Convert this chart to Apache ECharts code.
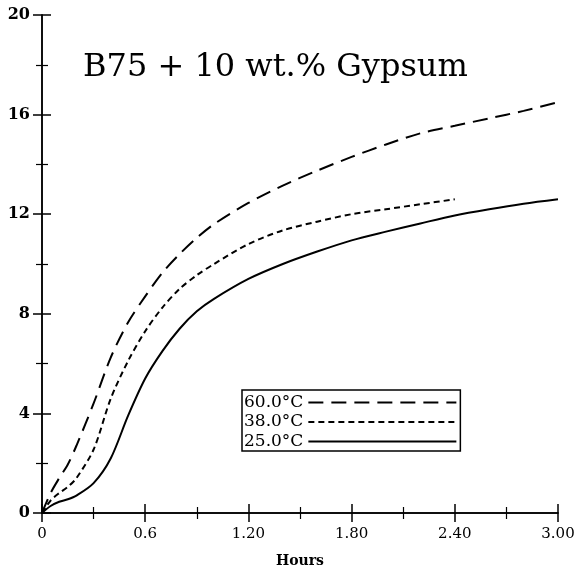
<!DOCTYPE html>
<html>
<head>
<meta charset="utf-8">
<script src="https://cdn.jsdelivr.net/npm/echarts@6/dist/echarts.min.js"></script>
<style>
  html, body { margin: 0; padding: 0; background: #fff; }
  #chart { width: 585px; height: 573px; }
</style>
</head>
<body>
<div id="chart"></div>
<script>
  // hours on the x axis
  var hours = [0, 0.05, 0.1, 0.15, 0.2, 0.3, 0.4, 0.5, 0.6, 0.7, 0.8, 0.9, 1.0,
    1.2, 1.4, 1.6, 1.8, 2.0, 2.2, 2.4, 2.6, 2.8, 3.0]
  var t60 = [0, 0.8, 1.4, 1.95, 2.7, 4.4, 6.25, 7.65, 8.7, 9.65, 10.4, 11.05, 11.6,
    12.45, 13.15, 13.75, 14.3, 14.8, 15.25, 15.55, 15.85, 16.15, 16.5]
  var t38 = [0, 0.5, 0.8, 1.05, 1.4, 2.55, 4.6, 6.1, 7.3, 8.25, 9.0, 9.55, 10.0,
    10.8, 11.35, 11.7, 12.0, 12.2, 12.4, 12.6]
  var t25 = [0, 0.28, 0.45, 0.55, 0.7, 1.2, 2.2, 3.9, 5.4, 6.5, 7.4, 8.1, 8.6,
    9.4, 10.0, 10.5, 10.95, 11.3, 11.63, 11.95, 12.2, 12.42, 12.6]
  var names = ['60.0°C', '38.0°C', '25.0°C']
  var xTicks = ['0', '0.6', '1.20', '1.80', '2.40', '3.00']
  var yTicks = ['0', '4', '8', '12', '16', '20']

  var serif = '"DejaVu Serif", serif'

  function pairs(vals) {
    return vals.map(function (v, i) { return [hours[i], v] })
  }

  var frameAxis = {
    type: 'value',
    min: 0,
    axisLine: { show: true, lineStyle: { color: '#000', width: 1.5 } },
    axisTick: { show: true, inside: true, length: 9, lineStyle: { color: '#000', width: 1.5 } },
    minorTick: { show: true, splitNumber: 2, length: 6, lineStyle: { color: '#000', width: 1.2 } },
    splitLine: { show: false },
    minorSplitLine: { show: false }
  }

  function axis(extra) {
    return Object.assign({}, JSON.parse(JSON.stringify(frameAxis)), extra)
  }

  var chart = echarts.init(document.getElementById('chart'))
  chart.setOption({
    backgroundColor: '#fff',
    animation: false,
    title: {
      text: 'B75 + 10 wt.% Gypsum',
      left: 78,
      top: 47,
      textStyle: { fontFamily: serif, fontSize: 32, fontWeight: 'normal', color: '#000' }
    },
    grid: { left: 42, right: 27, top: 15, bottom: 53 },
    legend: {
      orient: 'vertical',
      left: 242,
      top: 390,
      align: 'right',
      itemWidth: 148,
      itemHeight: 10,
      itemGap: 2.5,
      padding: [4, 3, 1, 2],
      borderColor: '#000',
      borderWidth: 1.5,
      itemStyle: { color: 'transparent', borderWidth: 0, opacity: 0 },
      textStyle: { fontFamily: serif, fontSize: 17, color: '#000' },
      data: names
    },
    xAxis: [
      axis({
        max: 3, interval: 0.6, position: 'bottom',
        name: 'Hours', nameLocation: 'middle', nameGap: 41,
        nameTextStyle: { fontFamily: serif, fontSize: 14, fontWeight: 'bold', color: '#000' },
        axisLabel: {
          fontFamily: serif, fontSize: 15, color: '#000', margin: 14,
          formatter: function (v) { return xTicks[Math.round(v / 0.6)] }
        }
      }),
      axis({ max: 3, interval: 0.6, position: 'top', axisLabel: { show: false } })
    ],
    yAxis: [
      axis({
        max: 20, interval: 4, position: 'left',
        axisLabel: {
          fontFamily: serif, fontSize: 16, fontWeight: 'bold', color: '#000', margin: 12,
          formatter: function (v) { return yTicks[Math.round(v / 4)] }
        }
      }),
      axis({ max: 20, interval: 4, position: 'right', axisLabel: { show: false } })
    ],
    series: [
      {
        name: names[0], type: 'line', symbol: 'none', smooth: 0.3,
        data: pairs(t60),
        lineStyle: { color: '#000', width: 2, type: [15, 8] }
      },
      {
        name: names[1], type: 'line', symbol: 'none', smooth: 0.3,
        data: pairs(t38),
        lineStyle: { color: '#000', width: 2, type: [6, 4] }
      },
      {
        name: names[2], type: 'line', symbol: 'none', smooth: 0.3,
        data: pairs(t25),
        lineStyle: { color: '#000', width: 2, type: 'solid' }
      }
    ]
  })
</script>
</body>
</html>
